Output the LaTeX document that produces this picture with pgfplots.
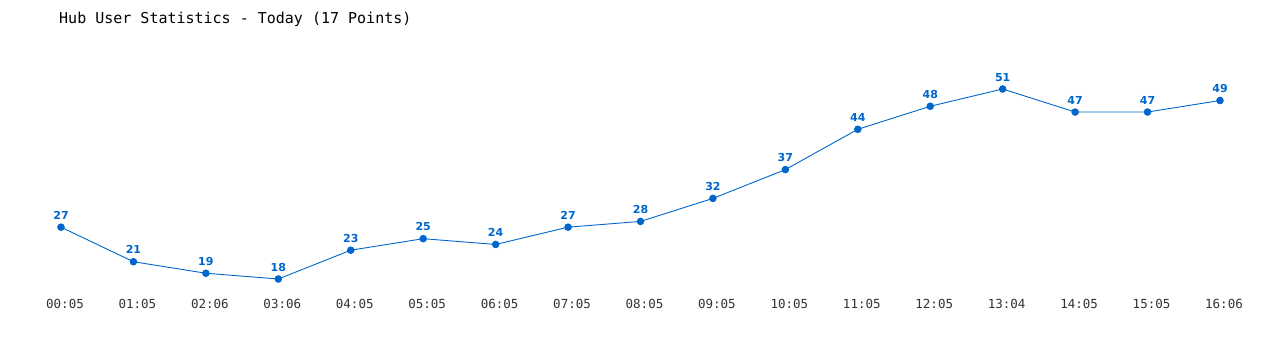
\documentclass[border=0pt]{standalone}
\usepackage{fontspec}
\usepackage{pgfplots}
\pgfplotsset{compat=1.18}
\setmainfont{DejaVu Sans}
\newfontfamily\monofont{DejaVu Sans Mono}
\definecolor{lineblue}{HTML}{0066CC}
\definecolor{ticktext}{HTML}{333333}
\begin{document}
\begin{tikzpicture}
\path[use as bounding box] (0bp,0bp) rectangle (1280bp,350bp);
\node[anchor=west, inner sep=0pt, text=black] at (59bp,331bp) {\monofont\fontsize{15bp}{18bp}\selectfont Hub User Statistics - Today (17 Points)};
\begin{axis}[
  at={(61bp,71bp)}, anchor=origin,
  scale only axis,
  width=1159bp, height=190bp,
  xmin=0, xmax=16, ymin=18, ymax=51,
  axis line style={draw=none},
  major tick length=0pt,
  clip=false,
  xtick=data,
  xticklabels={00:05,01:05,02:06,03:06,04:05,05:05,06:05,07:05,08:05,09:05,10:05,11:05,12:05,13:04,14:05,15:05,16:06},
  ytick=\empty,
  xticklabel style={text=ticktext, font=\monofont\fontsize{12.5bp}{15bp}\selectfont, anchor=north, yshift=-17bp, xshift=4bp},
  /pgf/number format/assume math mode=true,
  nodes near coords,
  every node near coord/.append style={text=lineblue, font=\bfseries\fontsize{11bp}{13bp}\selectfont, anchor=south, yshift=4bp},
]
\addplot[color=lineblue, line width=0.9bp, mark=*, mark size=3.3bp, mark options={fill=lineblue, draw=lineblue}]
coordinates {
(0,27) (1,21) (2,19) (3,18) (4,23) (5,25) (6,24) (7,27) (8,28)
(9,32) (10,37) (11,44) (12,48) (13,51) (14,47) (15,47) (16,49)
};
\end{axis}
\end{tikzpicture}
\end{document}
